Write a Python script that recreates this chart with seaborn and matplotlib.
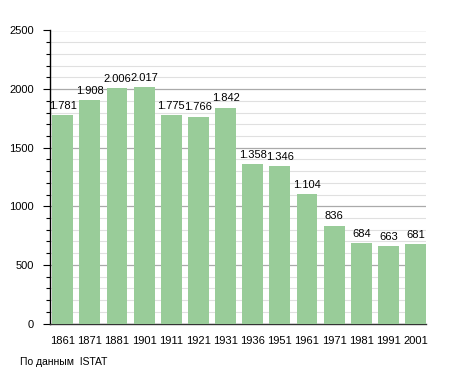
import matplotlib
matplotlib.use("Agg")
import matplotlib.pyplot as plt
import seaborn as sns
import pandas as pd
from matplotlib.ticker import MultipleLocator

years = ["1861", "1871", "1881", "1901", "1911", "1921", "1931",
         "1936", "1951", "1961", "1971", "1981", "1991", "2001"]
population = [1781, 1908, 2006, 2017, 1775, 1766, 1842,
              1358, 1346, 1104, 836, 684, 663, 681]
labels = ["1.781", "1.908", "2.006", "2.017", "1.775", "1.766", "1.842",
          "1.358", "1.346", "1.104", "836", "684", "663", "681"]
source = "По данным  ISTAT"

sns.set_theme(style="white")
plt.rcParams['font.family'] = ['Liberation Sans', 'DejaVu Sans']

df = pd.DataFrame({"year": years, "pop": population})

fig = plt.figure(figsize=(4.55, 3.73), dpi=100)
W, H = 455, 373
ax = fig.add_axes([50 / W, (H - 323.5) / H, (426 - 50) / W, (323.5 - 30.5) / H])

sns.barplot(data=df, x="year", y="pop", color="#99cc99", saturation=1,
            width=0.77, linewidth=0, edgecolor="none", ax=ax, zorder=3)

ax.set_ylim(0, 2500)
ax.set_xlim(-0.47, 13.385)
ax.yaxis.set_major_locator(MultipleLocator(500))
ax.yaxis.set_minor_locator(MultipleLocator(100))
ax.grid(axis="y", which="major", color="#aaaaaa", linewidth=0.9, zorder=0)
ax.grid(axis="y", which="minor", color="#e0e0e0", linewidth=0.8, zorder=0)
ax.grid(axis="x", visible=False)
ax.set_axisbelow(True)

for s in ["top", "right"]:
    ax.spines[s].set_visible(False)
ax.spines["left"].set_color("black")
ax.spines["left"].set_linewidth(1.0)
ax.spines["bottom"].set_color("#333333")
ax.spines["bottom"].set_linewidth(1.0)

ax.tick_params(axis="y", which="major", left=True, length=5, width=0.8,
               color="black", labelsize=8, pad=6.5, labelcolor="black")
ax.tick_params(axis="y", which="minor", left=True, length=3, width=0.8,
               color="black")
ax.tick_params(axis="x", bottom=False, labelsize=8, pad=3, labelcolor="black")
ax.set_xlabel("")
ax.set_ylabel("")

for i, (v, t) in enumerate(zip(population, labels)):
    ax.annotate(t, (i, v), xytext=(0, 3), textcoords="offset points",
                ha="center", va="bottom", fontsize=8, color="black")

fig.text(20 / W, 1 - 362 / H, source, ha="left", va="center", fontsize=7.5,
         color="black")

fig.savefig("out.png", dpi=100)
